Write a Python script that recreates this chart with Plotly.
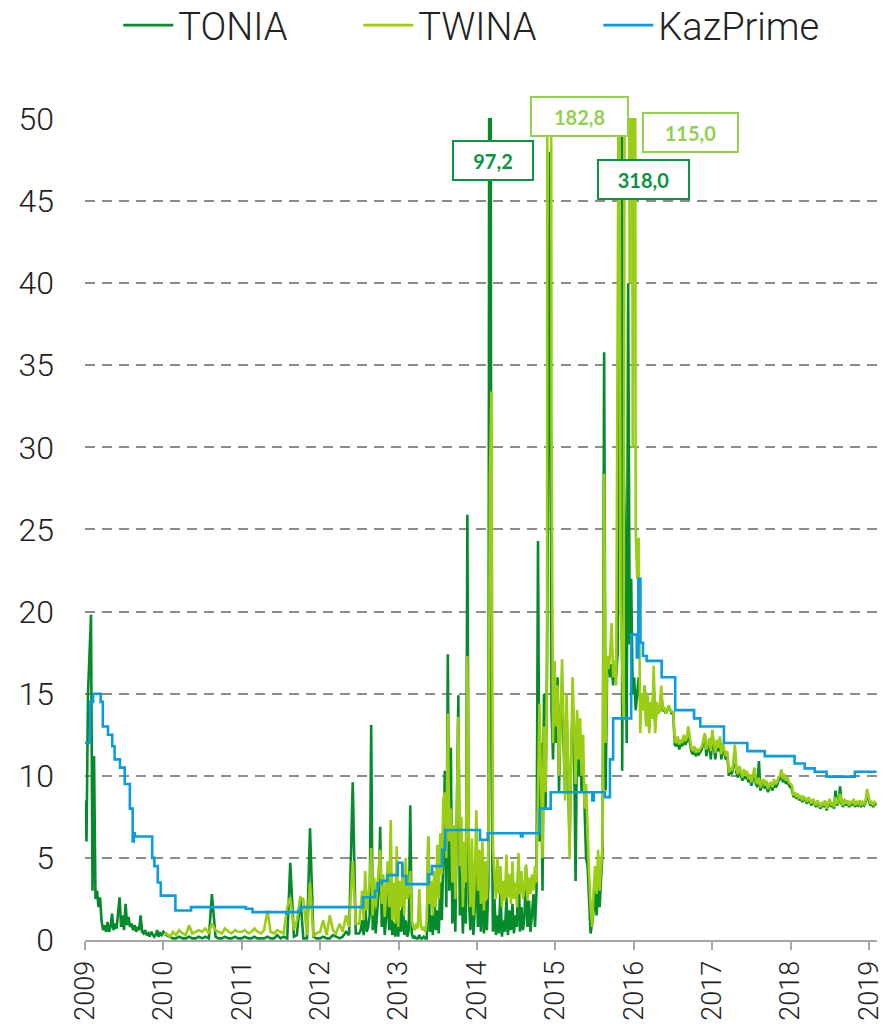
import pandas as pd
import plotly.graph_objects as go

# ---------------- DATA ----------------
# TONIA, weekly, 2009
tonia_2009 = [8.5, 6.0, 15.0, 17.0, 19.8, 3.0, 11.2, 2.5, 3.0, 2.0,
              2.6, 1.2, 0.6, 0.9, 0.5, 1.1, 0.5, 0.8, 1.6, 0.6,
              1.0, 0.7, 1.8, 2.6, 0.8, 1.5, 0.6, 2.2, 0.9, 1.4,
              0.8, 1.0, 0.6, 0.9, 0.5, 0.8, 0.6, 1.5, 0.5, 0.4,
              0.6, 0.3, 0.4, 0.2, 0.5, 0.3, 0.2, 0.3, 0.6, 0.2,
              0.4, 0.3]

# semi-monthly, Jan 2010 - Jun 2012
tonia_2010_2012 = [0.5, 0.3, 0.2, 0.1, 0.1, 0.2, 0.1, 0.1, 0.2, 0.1, 0.1, 0.2,
                   0.1, 0.2, 0.1, 2.8, 0.2, 0.1, 0.1, 0.2, 0.1, 0.1, 0.2, 0.1,
                   0.1, 0.2, 0.1, 0.1, 0.2, 0.1, 0.1, 0.1, 0.2, 0.1, 0.1, 0.3,
                   0.1, 0.2, 0.1, 4.7, 0.2, 0.3, 2.6, 0.1, 0.1, 6.8, 0.2, 0.1,
                   0.1, 0.2, 0.1, 0.1, 0.3, 0.2, 0.1, 0.2, 0.5, 0.3, 9.6, 0.4]
twina_2010_2012 = [0.3, 0.4, 0.2, 0.5, 0.3, 0.6, 0.4, 0.3, 0.9, 0.4, 0.5, 0.6,
                   0.5, 0.7, 0.4, 1.0, 0.6, 0.5, 0.4, 0.7, 0.5, 0.4, 0.6, 0.5,
                   0.5, 0.6, 0.4, 0.5, 0.7, 0.5, 0.4, 0.6, 1.8, 0.5, 0.4, 0.6,
                   0.5, 0.4, 2.0, 2.6, 0.6, 1.2, 2.6, 2.5, 0.3, 3.5, 0.2, 0.4,
                   0.5, 1.2, 0.3, 1.5, 0.6, 0.4, 1.0, 0.5, 1.5, 0.8, 4.8, 1.0]

# weekly, Jul 2012 - Jun 2016
tonia_2012_2016 = (
    [0.4, 0.6, 1.2, 0.3, 2.4, 0.5, 0.8, 1.5, 13.1, 0.6, 2.2, 0.4, 1.8, 3.0, 6.9, 0.8,
     2.5, 0.3, 1.4, 3.2, 0.6, 2.6, 0.3, 1.1, 0.2, 1.6]
    + [0.2, 1.8, 0.5, 2.5, 0.3, 1.2, 0.2, 0.6, 8.2, 0.4, 0.1, 0.2, 0.1, 0.1, 0.3, 0.1,
       0.1, 0.2, 0.1, 0.1]
    + [6.3, 0.5, 1.5, 0.3, 2.8, 0.6, 1.8, 0.4, 3.5, 1.2, 5.0, 10.3, 2.0, 17.4, 3.0, 11.7,
       1.0, 4.5, 0.5, 6.5]
    + [14.9, 1.5, 4.0, 0.4, 3.2, 1.0, 25.9, 2.5, 0.6, 3.8, 0.3, 2.0, 5.5, 0.8, 3.0, 0.5,
       4.2, 0.4, 2.4, 0.6, 3.5]
    + [97.2, 12.0, 0.5, 2.5, 0.3, 1.5, 0.4, 3.0, 0.2, 1.2, 0.5, 2.6, 0.3, 1.8, 0.6, 2.2,
       0.4, 1.5, 0.8, 5.1, 0.5, 2.0, 0.6, 1.4, 4.5, 0.8, 2.4, 0.5, 1.6, 2.8, 0.8, 3.0]
    + [24.3, 6.0, 12.0, 3.0, 15.0, 8.0, 17.0, 35.0, 48.0, 14.0, 11.0, 15.5, 12.0, 16.0,
       9.0, 14.0, 15.0]
    + [12.0, 9.0, 14.0, 10.0, 6.0, 11.0, 14.0, 12.0, 3.6, 13.0, 10.0, 12.0, 9.0, 11.0,
       7.0, 5.0, 4.5, 2.0, 0.4, 1.0, 1.8, 3.0, 1.5, 3.2, 2.0, 3.8, 5.5]
    + [35.8, 9.1, 16.5, 17.0, 16.0, 16.8, 15.5, 17.0, 16.0, 17.5, 45.0, 318.0, 10.3, 29.0,
       24.0, 12.0, 40.0, 18.0, 22.0, 15.0, 16.0, 14.0, 15.0, 16.0, 14.5, 15.0, 14.0, 15.5]
    + [13.2, 14.5, 13.0, 14.0, 13.5, 15.5, 13.0, 14.2, 13.8, 14.0, 15.0, 14.0, 14.0, 13.8,
       14.0, 14.2, 14.0, 13.8]
)
twina_2012_2016 = (
    [1.0, 2.2, 3.0, 1.2, 4.2, 1.8, 2.6, 3.5, 5.6, 1.5, 3.8, 2.0, 3.2, 4.5, 5.5, 2.2,
     4.0, 1.4, 3.6, 4.8, 2.0, 7.3, 1.2, 3.5, 1.0, 5.7]
    + [0.8, 3.6, 2.0, 4.6, 1.5, 5.0, 2.5, 3.0, 4.2, 1.2, 0.8, 0.6, 1.0, 0.7, 3.1, 0.9,
       0.6, 0.8, 0.5, 1.2]
    + [6.3, 2.2, 3.6, 1.5, 4.2, 2.0, 5.8, 2.5, 6.5, 4.0, 8.5, 9.0, 5.0, 13.8, 6.0, 8.0,
       3.5, 7.0, 2.5, 9.0]
    + [13.6, 4.5, 7.5, 2.0, 6.0, 3.5, 17.3, 5.5, 2.0, 6.2, 1.5, 4.0, 7.9, 3.0, 5.5, 2.2,
       6.0, 1.8, 4.8, 2.5, 6.0]
    + [28.0, 33.4, 5.6, 4.2, 2.5, 5.0, 2.8, 4.5, 2.0, 3.6, 2.4, 5.2, 2.6, 4.0, 2.2, 4.8,
       2.5, 3.5, 2.0, 5.3, 2.8, 4.2, 2.5, 3.2, 4.6, 2.4, 3.8, 2.8, 4.0, 3.0, 4.5, 3.5]
    + [8.0, 14.4, 10.0, 5.0, 13.0, 9.0, 16.0, 182.8, 120.0, 31.0, 12.0, 17.0, 13.0, 15.5,
       10.0, 14.0, 17.1]
    + [13.0, 8.5, 15.0, 11.0, 5.0, 12.0, 16.0, 13.0, 9.5, 14.0, 11.0, 13.5, 10.0, 12.5,
       8.0, 9.5, 6.0, 4.0, 2.0, 0.8, 3.0, 4.5, 2.8, 5.5, 3.0, 4.5, 6.0]
    + [28.4, 12.0, 17.3, 16.5, 17.5, 19.3, 16.0, 17.0, 15.5, 42.0, 60.0, 20.0, 16.0, 13.4,
       80.0, 55.0, 70.0, 40.0, 100.0, 30.0, 115.0, 25.0, 22.0, 24.5, 12.6, 15.0, 14.0, 15.5]
    + [13.0, 15.0, 12.6, 14.5, 13.5, 16.7, 12.6, 14.5, 13.8, 14.0, 15.5, 14.0, 14.2, 13.8,
       14.0, 14.3, 14.0, 13.9]
)

# weekly, Jul 2016 - Feb 2019
tonia_2016_2019 = (
    [13.8, 11.9, 11.8, 12.2, 11.6, 12.0, 11.8, 12.2, 11.9, 12.1, 12.6, 12.0]
    + [11.5, 11.3, 11.6, 11.2, 11.4, 11.3, 11.5]
    + [11.6, 12.0, 12.5, 11.2, 11.7, 12.1, 11.0, 12.5, 11.8, 11.0, 12.0, 11.5, 12.2, 11.0,
       11.8, 11.3, 11.0, 11.2]
    + [10.0, 10.3, 10.1, 10.6, 11.5, 10.2, 9.9, 10.4, 10.0, 9.7, 10.2, 9.8, 10.1]
    + [9.6, 9.9, 9.4, 9.8, 10.2, 9.5, 9.3, 10.9, 9.1, 9.4, 9.6, 9.2, 9.5, 9.0, 9.3, 9.4,
       9.1, 9.6, 9.3, 9.4, 9.7, 9.8, 10.2, 9.6, 9.9, 9.5, 9.7, 9.4, 9.3, 9.2]
    + [8.7, 8.9, 8.6, 8.8, 8.5, 8.7, 8.4, 8.6, 8.5, 8.3, 8.6, 8.4, 8.2, 8.5, 8.3, 8.1,
       8.4, 8.2, 8.0, 8.3, 8.1, 8.4, 7.9, 8.2, 8.5, 8.1, 8.3, 8.0, 9.1, 8.2, 8.4, 9.35,
       8.3, 8.1, 8.5, 8.2, 8.4, 8.1, 8.3, 8.2, 8.5, 8.1, 8.3, 8.2, 8.4, 8.1, 8.3, 8.2,
       8.4, 8.9, 8.5, 8.2, 8.3, 8.1, 8.3, 8.2]
)
twina_2016_2019 = (
    [13.9, 12.1, 12.0, 12.4, 11.9, 12.2, 12.0, 12.5, 12.1, 12.3, 13.0, 12.2]
    + [11.7, 11.5, 11.8, 11.4, 11.6, 11.5, 11.7]
    + [11.8, 12.2, 12.6, 11.6, 11.9, 12.3, 11.5, 12.8, 12.0, 11.4, 12.2, 11.7, 12.4, 11.3,
       12.0, 11.6, 11.2, 11.5]
    + [10.2, 10.5, 10.3, 10.8, 11.9, 10.4, 10.1, 10.6, 10.2, 9.9, 10.4, 10.0, 10.3]
    + [9.8, 10.1, 9.6, 10.0, 10.5, 9.7, 9.5, 9.9, 9.3, 9.6, 9.8, 9.4, 9.7, 9.2, 9.5, 9.6,
       9.3, 9.8, 9.5, 9.6, 9.9, 10.0, 10.4, 9.8, 10.1, 9.7, 9.9, 9.6, 9.5, 9.4]
    + [8.8, 9.0, 8.7, 8.9, 8.6, 8.8, 8.5, 8.7, 8.6, 8.4, 8.7, 8.5, 8.3, 8.6, 8.4, 8.2,
       8.5, 8.3, 8.1, 8.4, 8.2, 8.5, 8.0, 8.3, 8.6, 8.2, 8.4, 8.1, 8.7, 8.3, 8.5, 8.9,
       8.4, 8.2, 8.6, 8.3, 8.5, 8.2, 8.4, 8.3, 8.6, 8.2, 8.4, 8.3, 8.5, 8.2, 8.4, 8.3,
       8.5, 9.2, 8.6, 8.3, 8.4, 8.2, 8.4, 8.3]
)

# KazPrime (step line)
kaz_dates = ["2009-01-01", "2009-01-25", "2009-02-08", "2009-03-15", "2009-03-25", "2009-04-18",
             "2009-05-08", "2009-05-19", "2009-06-13", "2009-07-05", "2009-07-29", "2009-08-11",
             "2009-08-16", "2009-08-21", "2009-11-10", "2009-11-20", "2009-12-06", "2009-12-20",
             "2010-02-26", "2010-05-10", "2011-01-20", "2011-02-20", "2011-07-28", "2011-08-02",
             "2011-09-22", "2011-10-01", "2012-07-19", "2012-09-13", "2012-09-25", "2012-10-14",
             "2012-11-10", "2012-12-28", "2013-01-18", "2013-02-06", "2013-05-20", "2013-06-05",
             "2013-07-22", "2013-08-06", "2014-01-15", "2014-02-20", "2014-07-25", "2014-08-01",
             "2014-10-20", "2014-12-10", "2015-06-22", "2015-06-29", "2015-08-20", "2015-09-12",
             "2015-09-27", "2015-12-20", "2016-01-15", "2016-01-22", "2016-02-01", "2016-02-13",
             "2016-03-01", "2016-05-10", "2016-07-12", "2016-10-08", "2016-11-06", "2017-02-24",
             "2017-06-13", "2017-09-02", "2018-01-19", "2018-03-07", "2018-04-23", "2018-06-17",
             "2018-10-27", "2019-02-05"]
kaz_values = [12.0, 14.5, 15.0, 14.5, 13.0, 12.5,
              11.8, 11.0, 10.5, 9.5, 8.0, 6.0,
              6.5, 6.3, 5.0, 4.5, 3.5, 2.7,
              1.8, 2.0, 1.9, 1.7, 1.6, 1.7,
              1.8, 2.0, 2.6, 3.0, 3.45, 3.6,
              3.95, 4.7, 3.9, 3.4, 4.0, 4.5,
              5.5, 6.7, 6.1, 6.5, 6.3, 6.5,
              8.0, 9.0, 8.5, 9.0, 8.7, 11.0,
              13.5, 18.6, 17.2, 22.0, 18.1, 17.3,
              17.0, 16.0, 14.0, 13.5, 13.0, 12.0,
              11.5, 11.2, 10.75, 10.45, 10.25, 9.95,
              10.25, 10.25]

year_ticks = ["2009", "2010", "2011", "2012", "2013", "2014", "2015", "2016", "2017", "2018", "2019"]
y_ticks = [0, 5, 10, 15, 20, 25, 30, 35, 40, 45, 50]

# annotation labels: (text, date, y, colour key, box width)
labels = [("97,2", "2014-03-16", 47.5, "tonia", 76),
          ("182,8", "2015-04-24", 50.0, "twina", 93),
          ("318,0", "2016-02-17", 46.3, "tonia", 87),
          ("115,0", "2016-09-23", 49.2, "twina", 91)]

# ---------------- BUILD ----------------
d_2009 = pd.date_range("2009-01-01", periods=len(tonia_2009), freq="7D")
d_2010 = pd.date_range("2010-01-01", periods=len(tonia_2010_2012), freq="SMS")
d_2012 = pd.date_range("2012-07-01", periods=len(tonia_2012_2016), freq="7D")
d_2016 = pd.date_range("2016-07-03", periods=len(tonia_2016_2019), freq="7D")

tonia_x = list(d_2009) + list(d_2010) + list(d_2012) + list(d_2016)
tonia_y = tonia_2009 + tonia_2010_2012 + tonia_2012_2016 + tonia_2016_2019
twina_x = list(d_2010) + list(d_2012) + list(d_2016)
twina_y = twina_2010_2012 + twina_2012_2016 + twina_2016_2019

C_TONIA = "#058A2C"
C_TWINA = "#9ACD14"
C_KAZ = "#0A9CE0"
C_LBL = {"tonia": "#0A9444", "twina": "#92D050"}

FONT = "Roboto"

fig = go.Figure()
fig.add_trace(go.Scatter(x=tonia_x, y=tonia_y, name="TONIA", mode="lines",
                         line=dict(color=C_TONIA, width=2.6)))
fig.add_trace(go.Scatter(x=twina_x, y=twina_y, name="TWINA", mode="lines",
                         line=dict(color=C_TWINA, width=2.6)))
fig.add_trace(go.Scatter(x=kaz_dates, y=kaz_values, name="KazPrime", mode="lines",
                         line=dict(color=C_KAZ, width=2.6, shape="hv")))

for text, d, yv, key, w in labels:
    fig.add_annotation(x=d, y=yv, xref="x", yref="y", text=text, showarrow=False,
                       yshift=2 if yv >= 50 else 0,
                       font=dict(family="Lato", size=20, color=C_LBL[key], weight="bold"),
                       bgcolor="white", bordercolor=C_LBL[key], borderwidth=2,
                       width=w, height=35, borderpad=1)

fig.update_layout(
    width=884, height=1024,
    margin=dict(l=85, r=7, t=118, b=84, autoexpand=False),
    paper_bgcolor="white", plot_bgcolor="white",
    showlegend=True,
    legend=dict(orientation="h", x=0.042, xanchor="left", y=1.151, yanchor="top",
                font=dict(family=FONT, size=38, color="#222222", weight=300),
                entrywidth=175, entrywidthmode="pixels", itemwidth=50,
                bgcolor="rgba(0,0,0,0)"),
    xaxis=dict(type="date", range=["2009-01-01", "2019-02-07"], automargin=False,
               tickvals=[y + "-01-01" for y in year_ticks], ticktext=year_ticks,
               tickangle=-90, tickfont=dict(family=FONT, size=27, color="#222222", weight=300),
               showgrid=False, showline=True, linecolor="#A6A6A6", linewidth=2,
               ticks="outside", ticklen=8, tickwidth=2, tickcolor="#A6A6A6", zeroline=False,
               ticklabelstandoff=0, ticklabeloverflow="allow"),
    yaxis=dict(range=[0, 50.06], tickvals=y_ticks, automargin=False,
               tickfont=dict(family=FONT, size=32, color="#222222", weight=300),
               showgrid=True, gridcolor="#8C8C8C", gridwidth=2, griddash="10px,7px",
               zeroline=False, showline=False, ticks="", ticklabelstandoff=30),
)

fig.write_html("out.html", config={"displayModeBar": False},
               post_script="document.body.style.margin='0px';")
